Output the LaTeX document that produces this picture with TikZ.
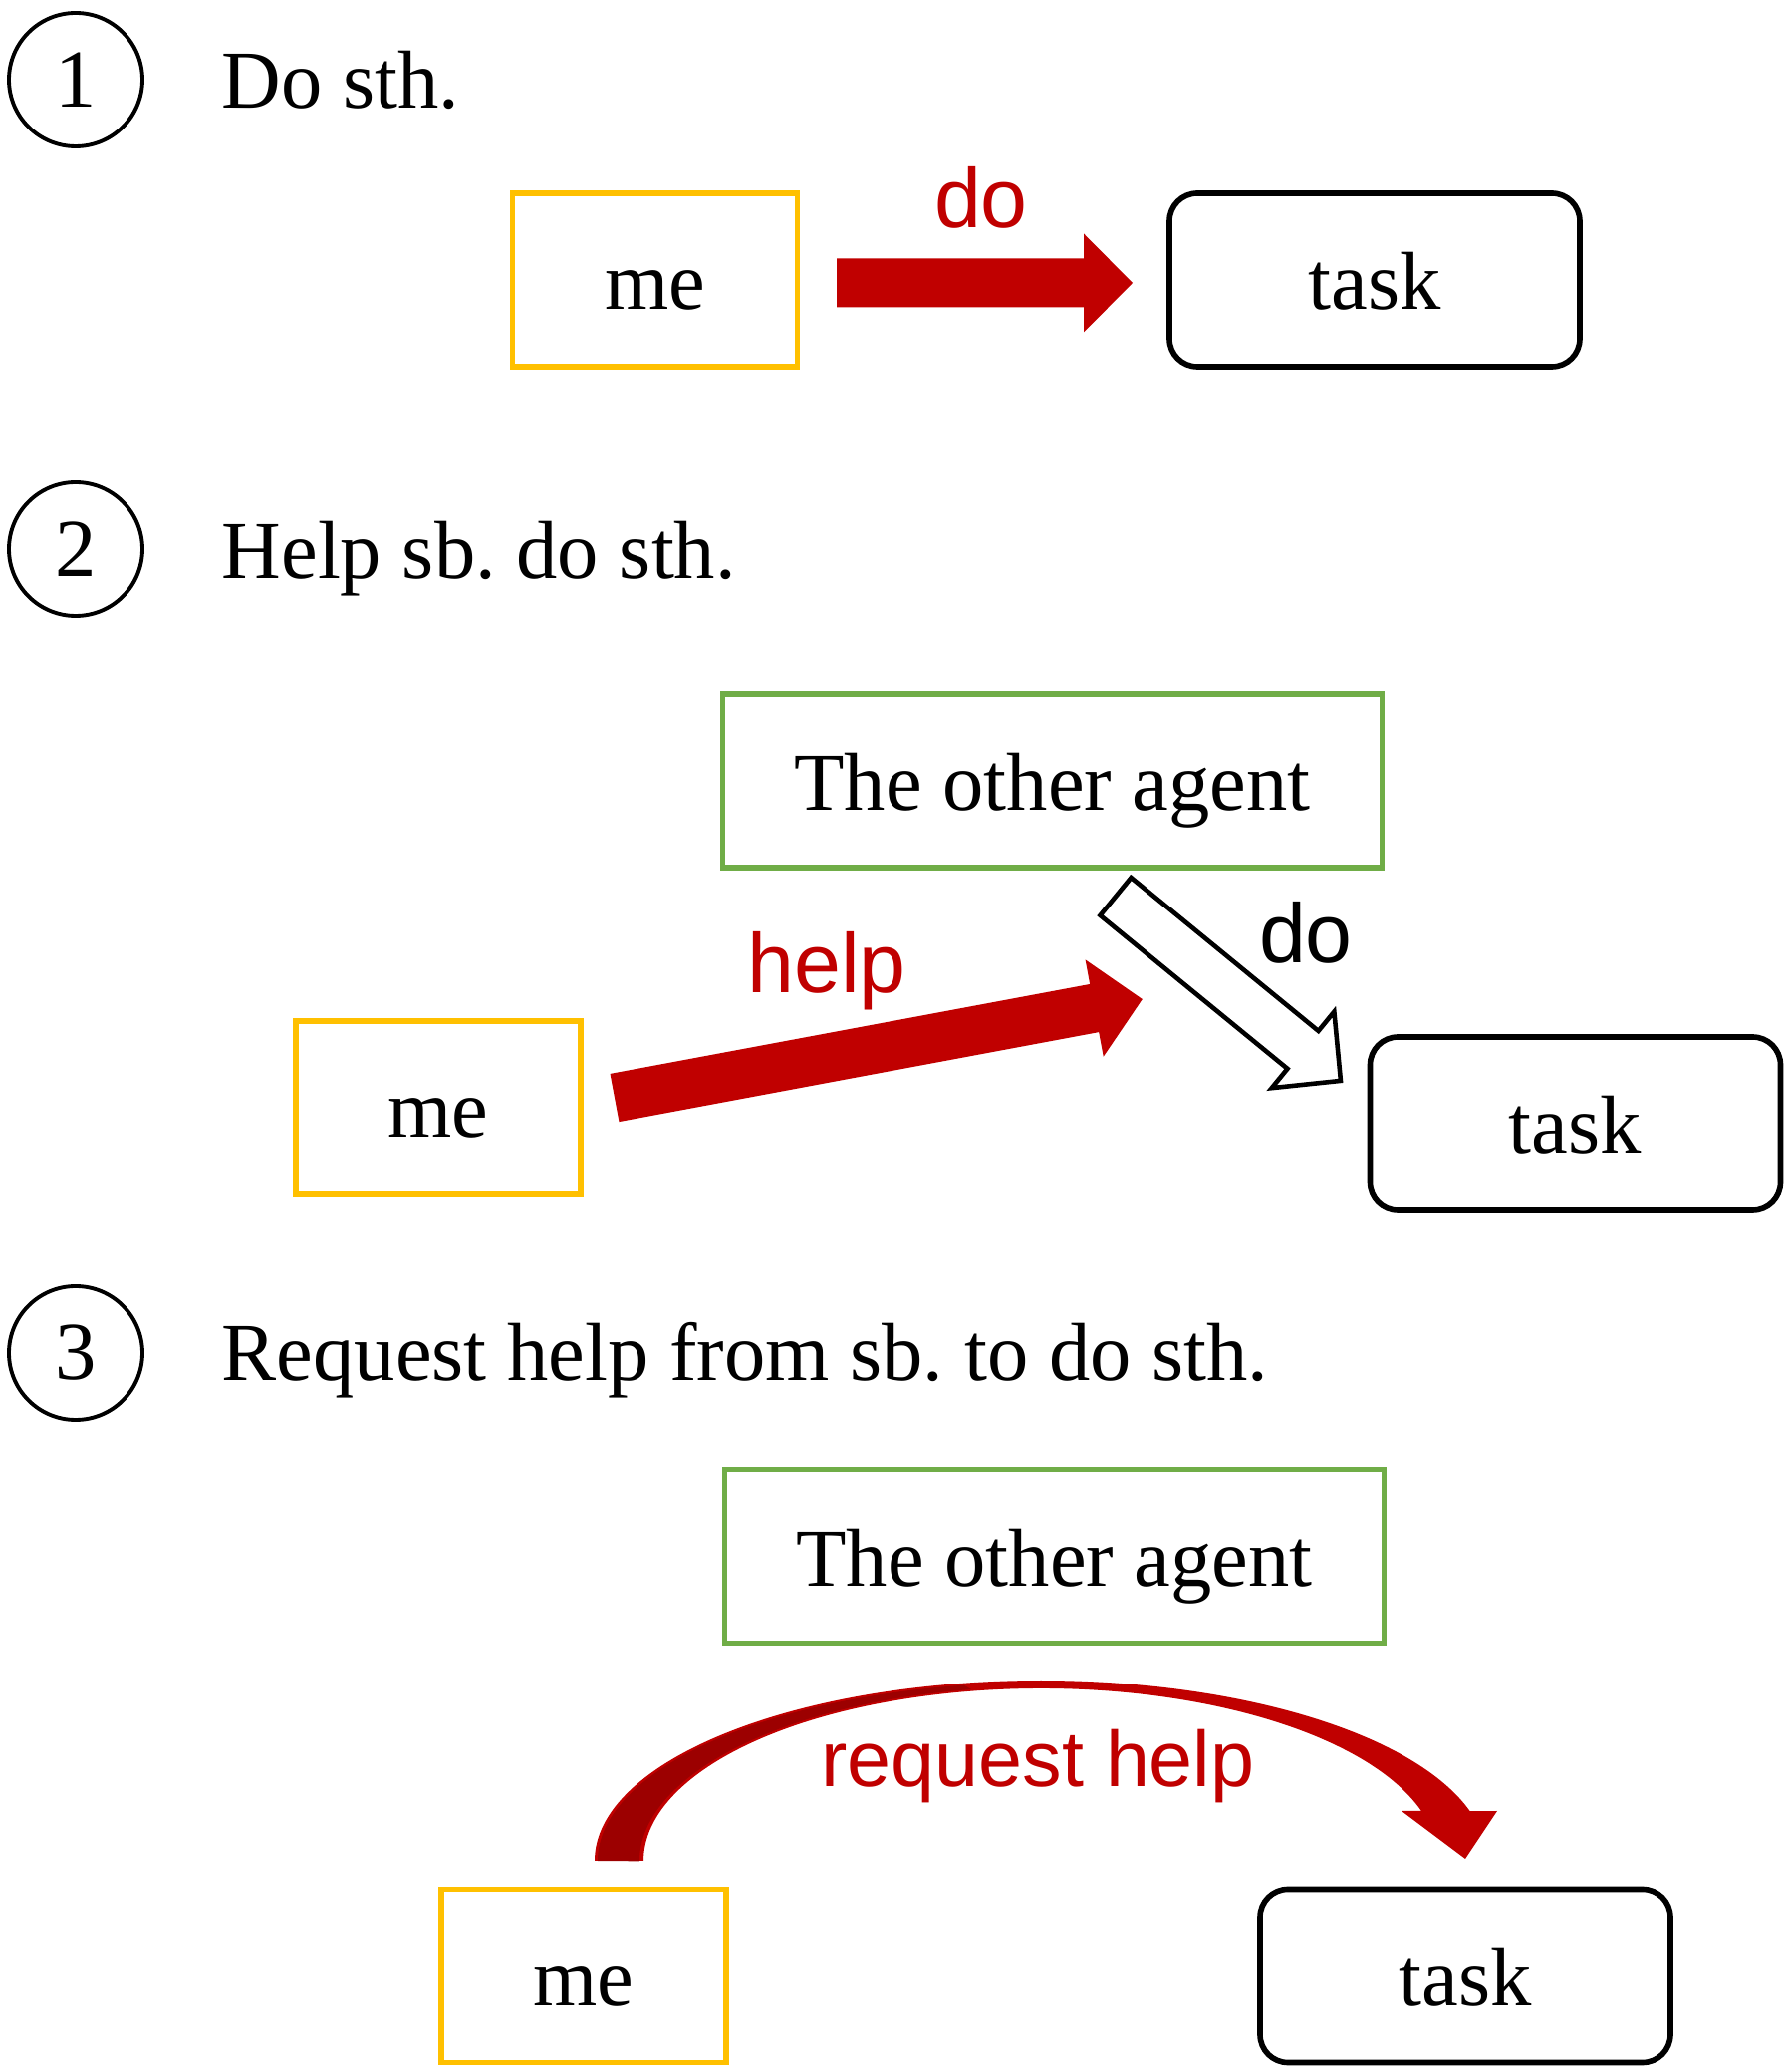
\documentclass[tikz,border=0pt]{standalone}
\usepackage{fontspec}
\setmainfont{Liberation Serif}
\newfontfamily\labelfont{Liberation Sans}
\frenchspacing

\definecolor{myred}{HTML}{C00000}
\definecolor{mydarkred}{HTML}{9C0000}
\definecolor{mygold}{HTML}{FFC000}
\definecolor{mygreen}{HTML}{70AD47}

\tikzset{
  numcircle/.style={circle, draw, line width=1.1pt, minimum size=1.34cm, inner sep=0pt},
  headtext/.style={anchor=base west, inner sep=0pt},
  boxtext/.style={text height=0.6cm, text depth=0cm},
  mebox/.style={boxtext, draw=mygold, line width=1.5pt, minimum width=2.86cm, minimum height=1.74cm},
  taskbox/.style={boxtext, draw, rounded corners=0.28cm, line width=1.6pt, minimum width=4.12cm, minimum height=1.74cm},
  agentbox/.style={boxtext, draw=mygreen, line width=1.5pt, minimum width=6.62cm, minimum height=1.74cm},
  redlabel/.style={font=\labelfont\fontsize{24}{28}\selectfont, text=myred, anchor=base},
  blacklabel/.style={font=\labelfont\fontsize{24}{28}\selectfont, anchor=base},
  redarrow/.style={fill=myred},
  hollowarrow/.style={draw, fill=white, line width=1.3pt},
  pics/blockarrow/.style={code={
    \path[pic actions] (0,0.245) -- ({#1-0.49},0.245) -- ({#1-0.49},0.495) -- (#1,0)
      -- ({#1-0.49},-0.495) -- ({#1-0.49},-0.245) -- (0,-0.245) -- cycle;
  }}
}

\begin{document}
\begin{tikzpicture}[every node/.style={font=\fontsize{23.5}{28}\selectfont}]
  \useasboundingbox (0,0) rectangle (17.92,20.80);

  % 1: do sth.
  \node[numcircle] (num1) at (0.76,20.00) {1};
  \node[headtext] (head1) at (2.22,19.71) {Do sth.};
  \node[mebox] (me1) at (6.575,17.99) {me};
  \node[taskbox] (task1) at (13.80,17.99) {task};
  \coordinate (do1tail) at (8.40,17.96);
  \pic[redarrow] at (do1tail) {blockarrow=2.97};
  \node[redlabel] (do1) at (9.85,18.51) {do};

  % 2: help sb. do sth.
  \node[numcircle] (num2) at (0.76,15.29) {2};
  \node[headtext] (head2) at (2.22,14.99) {Help sb. do sth.};
  \node[agentbox] (agent2) at (10.565,12.96) {The other agent};
  \node[mebox] (me2) at (4.40,9.68) {me};
  \node[taskbox] (task2) at (15.815,9.52) {task};
  \coordinate (helptail) at (6.17,9.78);
  \pic[redarrow, rotate=10.58] at (helptail) {blockarrow=5.39};
  \node[redlabel] (help2) at (8.30,10.83) {help};
  \coordinate (do2tail) at (11.20,11.80);
  \pic[hollowarrow, rotate=-39.3] at (do2tail) {blockarrow=2.92};
  \node[blacklabel] (do2) at (13.11,11.13) {do};

  % 3: request help from sb. to do sth.
  \node[numcircle] (num3) at (0.76,7.22) {3};
  \node[headtext] (head3) at (2.22,6.94) {Request help from sb. to do sth.};
  \node[agentbox] (agent3) at (10.585,5.175) {The other agent};
  \node[mebox] (me3) at (5.86,0.965) {me};
  \node[taskbox] (task3) at (14.71,0.965) {task};
  \fill[myred] (5.97,2.12) arc[start angle=180, end angle=16, x radius=4.48, y radius=1.81]
    -- (15.03,2.62) -- (14.71,2.14) -- (14.07,2.62)
    -- (14.27,2.62) arc[start angle=16.8, end angle=180, x radius=3.99, y radius=1.73] -- cycle;
  \fill[mydarkred] (6.00,2.12) arc[start angle=180, end angle=100, x radius=4.45, y radius=1.79]
    -- (9.75,3.84) arc[start angle=100, end angle=180, x radius=4.03, y radius=1.75] -- cycle;
  \node[redlabel, font=\labelfont\fontsize{22.5}{27}\selectfont] (rq3) at (10.42,2.86) {request help};
\end{tikzpicture}
\end{document}
